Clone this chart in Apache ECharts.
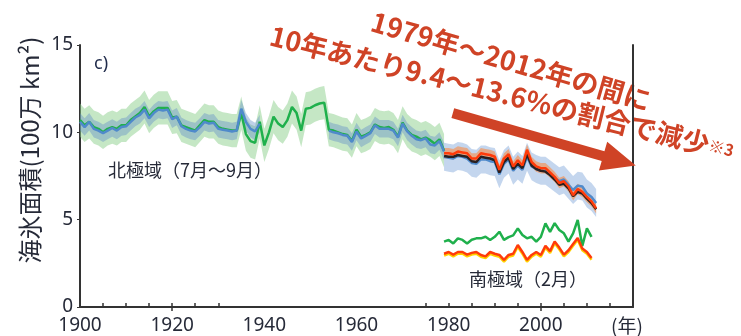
<!DOCTYPE html>
<html>
<head>
<meta charset="utf-8">
<script src="https://cdn.jsdelivr.net/npm/echarts@6/dist/echarts.min.js"></script>
<style>
  html, body { margin: 0; padding: 0; background: #fff; }
  #chart { width: 741px; height: 336px; }
</style>
</head>
<body>
<div id="chart"></div>
<script>
// --- data (sea ice extent, million km2) ---
const arcticOldStart = 1900;
const arcticBlueEarly = [10.6, 10.3, 10.6, 10.2, 10.1, 9.95, 10.1, 10.25, 10.1, 10.3,
  10.35, 10.6, 10.85, 11.0, 11.3, 10.8, 11.1, 11.3, 11.25, 11.3,
  10.75, 10.9, 10.35, 10.2, 10.1, 10.05, 10.3, 10.6, 10.5, 10.55,
  10.2, 10.15, 10.1, 10.05, 10.1, 11.35, 10.6, 10.2, 10.05, 10.5];
const arcticBlueMidStart = 1954;
const arcticBlueMid = [10.1, 10.0, 9.95, 9.85, 9.8, 9.45, 10.05, 9.65, 9.8, 9.95,
  10.4, 10.2, 10.2, 10.2, 10.1, 9.7, 10.5, 10.05, 9.8, 9.6,
  9.55, 9.65, 9.3, 9.25, 9.5, 8.9];
const arcticGreen = [10.7, 10.4, 10.6, 10.3, 10.2, 10.0, 10.2, 10.3, 10.2, 10.4,
  10.4, 10.7, 10.9, 11.1, 11.45, 10.9, 11.2, 11.4, 11.4, 11.4,
  10.85, 10.9, 10.4, 10.3, 10.2, 10.1, 10.4, 10.7, 10.6, 10.6,
  10.3, 10.2, 10.15, 10.1, 10.1, 11.1, 9.9, 9.5, 9.4, 10.6,
  9.25, 10.0, 10.9, 10.5, 10.3, 10.7, 11.45, 11.1, 10.1, 11.35,
  11.4, 11.55, 11.65, 11.7, 10.15, 10.1, 10.0, 9.9, 9.85, 9.5,
  10.15, 9.75, 9.85, 10.0, 10.45, 10.3, 10.25, 10.3, 10.15, 9.75,
  10.55, 10.1, 9.85, 9.75, 9.6, 9.7, 9.55, 9.35, 9.6, 8.95];

const modernStart = 1979;
const arcticRed = [8.8, 8.8, 8.75, 8.9, 8.85, 8.8, 8.5, 8.5, 8.8, 8.75,
  8.7, 8.6, 7.85, 8.5, 8.75, 8.05, 8.4, 8.1, 9.0, 8.3,
  8.05, 7.95, 7.95, 7.7, 7.45, 7.1, 7.2, 6.9, 6.4, 6.75,
  6.6, 6.3, 6.05, 5.65];
const arcticBlack = [8.65, 8.6, 8.6, 8.7, 8.65, 8.6, 8.35, 8.3, 8.6, 8.55,
  8.5, 8.4, 7.7, 8.3, 8.55, 7.9, 8.2, 7.95, 8.75, 8.1,
  7.9, 7.8, 7.75, 7.55, 7.3, 7.0, 7.05, 6.8, 6.35, 6.6,
  6.5, 6.2, 5.95, 5.6];
const arcticBlueModern = [8.6, 8.55, 8.5, 8.65, 8.6, 8.5, 8.25, 8.2, 8.45, 8.45,
  8.35, 8.3, 7.6, 8.2, 8.45, 7.8, 8.1, 7.85, 8.6, 8.05,
  7.9, 7.8, 7.8, 7.6, 7.4, 7.2, 7.3, 7.0, 6.7, 6.95,
  6.9, 6.5, 6.3, 5.95];

const antarcticGreen = [3.74, 3.84, 3.64, 3.93, 3.84, 3.64, 3.85, 3.93, 3.93, 4.02,
  3.84, 4.02, 4.31, 3.84, 4.0, 4.1, 4.5, 4.12, 3.93, 4.02,
  3.74, 4.02, 4.79, 4.3, 4.8, 4.41, 4.22, 3.74, 4.22, 4.98,
  3.5, 4.5, 4.02];
const antarcticRed = [3.05, 3.15, 3.0, 3.15, 3.15, 3.0, 3.1, 3.15, 2.98, 2.9,
  3.15, 3.05, 2.98, 2.7, 2.98, 3.05, 3.55, 3.15, 2.7, 2.98,
  3.15, 2.98, 3.5, 3.2, 3.75, 3.4, 3.0, 3.25, 3.6, 3.95,
  3.35, 3.15, 2.8];
const antarcticYellow = [2.95, 3.05, 2.9, 3.05, 3.05, 2.9, 3.0, 3.05, 2.88, 2.8,
  3.05, 2.95, 2.88, 2.6, 2.88, 2.95, 3.45, 3.05, 2.6, 2.88,
  3.05, 2.88, 3.4, 3.1, 3.65, 3.3, 2.9, 3.15, 3.5, 3.85,
  3.25, 3.05, 2.7];

// uncertainty half-widths of the shaded ranges
const greenSpread = 0.95;
const blueOldSpread = 0.5;
const blueModernSpread = 0.8;
const orangeSpread = 0.3;

const xLabels = [1900, 1920, 1940, 1960, 1980, 2000];
const xTicks = [1905, 1910, 1915, 1920, 1925, 1930, 1975, 1980, 1985, 1990, 1995, 2000, 2005, 2010, 2015];

const arrowFrom = [1980.9, 11.1];
const arrowTo = [2020.6, 8.1];

const pairs = (start, vals) => vals.map((v, i) => [start + i, v]);

function line(name, start, vals, color, width) {
  return {
    name, type: 'line', data: pairs(start, vals), showSymbol: false, silent: true,
    lineStyle: { color, width }, z: 3
  };
}

// shaded range drawn as one polygon through the axis scales
function band(start, vals, spread, color) {
  const rows = vals.map((v, i) => [start + i, v - spread, v + spread]);
  return {
    type: 'custom', silent: true, z: 2,
    data: rows,
    encode: { x: 0, y: [1, 2] },
    renderItem(params, api) {
      if (params.dataIndex !== 0) return null;
      const top = rows.map(r => api.coord([r[0], r[2]]));
      const bot = rows.map(r => api.coord([r[0], r[1]])).reverse();
      return {
        type: 'polygon',
        shape: { points: top.concat(bot) },
        style: { fill: color }
      };
    }
  };
}

const chart = echarts.init(document.getElementById('chart'));
const FONT = 'Noto Sans CJK JP';
const TXT = '#262a38';
const RED_TXT = '#cf4326';

const series = [
  band(arcticOldStart, arcticGreen, greenSpread, 'rgba(140,208,140,0.5)'),
  band(arcticOldStart, arcticBlueEarly, blueOldSpread, 'rgba(95,140,200,0.4)'),
  band(arcticBlueMidStart, arcticBlueMid, blueOldSpread, 'rgba(95,140,200,0.4)'),
  band(modernStart, arcticBlueModern, blueModernSpread, 'rgba(125,165,218,0.45)'),
  band(modernStart, arcticRed, orangeSpread, 'rgba(250,140,70,0.6)'),
  line('green', arcticOldStart, arcticGreen, '#1fb04c', 2.5),
  line('blueEarly', arcticOldStart, arcticBlueEarly, '#4f8acb', 2.5),
  line('blueMid', arcticBlueMidStart, arcticBlueMid, '#4f8acb', 2.5),
  line('blueModern', modernStart, arcticBlueModern, '#4f8acb', 2.5),
  line('black', modernStart, arcticBlack, '#2a2020', 2.5),
  line('red', modernStart, arcticRed, '#ff3b0a', 2.5),
  line('sGreen', modernStart, antarcticGreen, '#1fb04c', 2.5),
  line('sYellow', modernStart, antarcticYellow, '#ffd200', 2.5),
  line('sRed', modernStart, antarcticRed, '#ff3b0a', 2.5)
];

chart.setOption({
  animation: false,
  grid: { left: 80, right: 108, top: 45, bottom: 29 },
  xAxis: [{
    type: 'value', min: 1900, max: 2020, interval: 20,
    axisLine: { lineStyle: { color: '#333', width: 2 } },
    axisTick: { inside: true, length: 4, customValues: xTicks, lineStyle: { color: '#333', width: 1.5 } },
    axisLabel: { customValues: xLabels, formatter: v => String(v), fontSize: 19, color: TXT,
      fontFamily: 'Noto Sans', margin: 9 },
    splitLine: { show: false }
  }, {
    type: 'value', position: 'top', min: 1900, max: 2020,
    axisLine: { show: false },
    axisTick: { inside: true, length: 4, customValues: [1920, 2000], lineStyle: { color: '#333', width: 1.5 } },
    axisLabel: { show: false },
    splitLine: { show: false }
  }],
  yAxis: [{
    type: 'value', min: 0, max: 15, interval: 5,
    axisLine: { show: true, lineStyle: { color: '#333', width: 2 } },
    axisTick: { show: true, length: 3, lineStyle: { color: '#333' } },
    axisLabel: { fontSize: 19, color: TXT, fontFamily: 'Noto Sans', margin: 7 },
    splitLine: { show: false }
  }, {
    type: 'value', position: 'right', min: 0, max: 15,
    axisLine: { show: true, lineStyle: { color: '#333', width: 2 } },
    axisTick: { show: false }, axisLabel: { show: false }, splitLine: { show: false }
  }],
  series,
  graphic: [
    { type: 'text', x: 30, y: 150, rotation: Math.PI / 2,
      style: { text: '海氷面積(100万 km²)', fontSize: 24, fontFamily: FONT, fill: TXT,
        align: 'center', verticalAlign: 'middle' } },
    { type: 'text', x: 94, y: 64,
      style: { text: 'c)', fontSize: 18, fontFamily: 'Noto Sans', fill: '#1f2a4a', verticalAlign: 'middle' } },
    { type: 'text', x: 108, y: 170,
      style: { text: '北極域（7月～9月）', fontSize: 18, fontFamily: FONT, fill: TXT, verticalAlign: 'middle' } },
    { type: 'text', x: 469, y: 279,
      style: { text: '南極域（2月）', fontSize: 18, fontFamily: FONT, fill: TXT, verticalAlign: 'middle' } },
    { type: 'text', x: 611, y: 326,
      style: { text: '(年)', fontSize: 19, fontFamily: FONT, fill: TXT, verticalAlign: 'middle' } },
    { type: 'text', x: 511, y: 61, rotation: -0.28,
      style: { text: '1979年～2012年の間に', fontSize: 27, fontWeight: 'bold', fontFamily: FONT,
        fill: RED_TXT, align: 'center', verticalAlign: 'middle' } },
    { type: 'text', x: 502, y: 93, rotation: -0.245,
      style: { text: '{a|10年あたり9.4～13.6%の割合で減少}{b|※3}', fontFamily: FONT,
        align: 'center', verticalAlign: 'middle',
        rich: {
          a: { fontSize: 27, fontWeight: 'bold', fontFamily: FONT, fill: RED_TXT },
          b: { fontSize: 16, fontWeight: 'bold', fontFamily: FONT, fill: RED_TXT }
        } } }
  ]
});

// arrow placed in data space
const p0 = chart.convertToPixel({ gridIndex: 0 }, arrowFrom);
const p1 = chart.convertToPixel({ gridIndex: 0 }, arrowTo);
const dx = p1[0] - p0[0], dy = p1[1] - p0[1];
const len = Math.hypot(dx, dy);
const ux = dx / len, uy = dy / len, nx = -uy, ny = ux;
const shaft = 5, head = 15, headLen = 34;
const bx = p1[0] - ux * headLen, by = p1[1] - uy * headLen;
const pts = [
  [p0[0] + nx * shaft, p0[1] + ny * shaft],
  [bx + nx * shaft, by + ny * shaft],
  [bx + nx * head, by + ny * head],
  [p1[0], p1[1]],
  [bx - nx * head, by - ny * head],
  [bx - nx * shaft, by - ny * shaft],
  [p0[0] - nx * shaft, p0[1] - ny * shaft]
];
chart.setOption({
  graphic: [{ type: 'polygon', id: 'arrow', shape: { points: pts }, style: { fill: RED_TXT }, z: 10 }]
});
</script>
</body>
</html>
